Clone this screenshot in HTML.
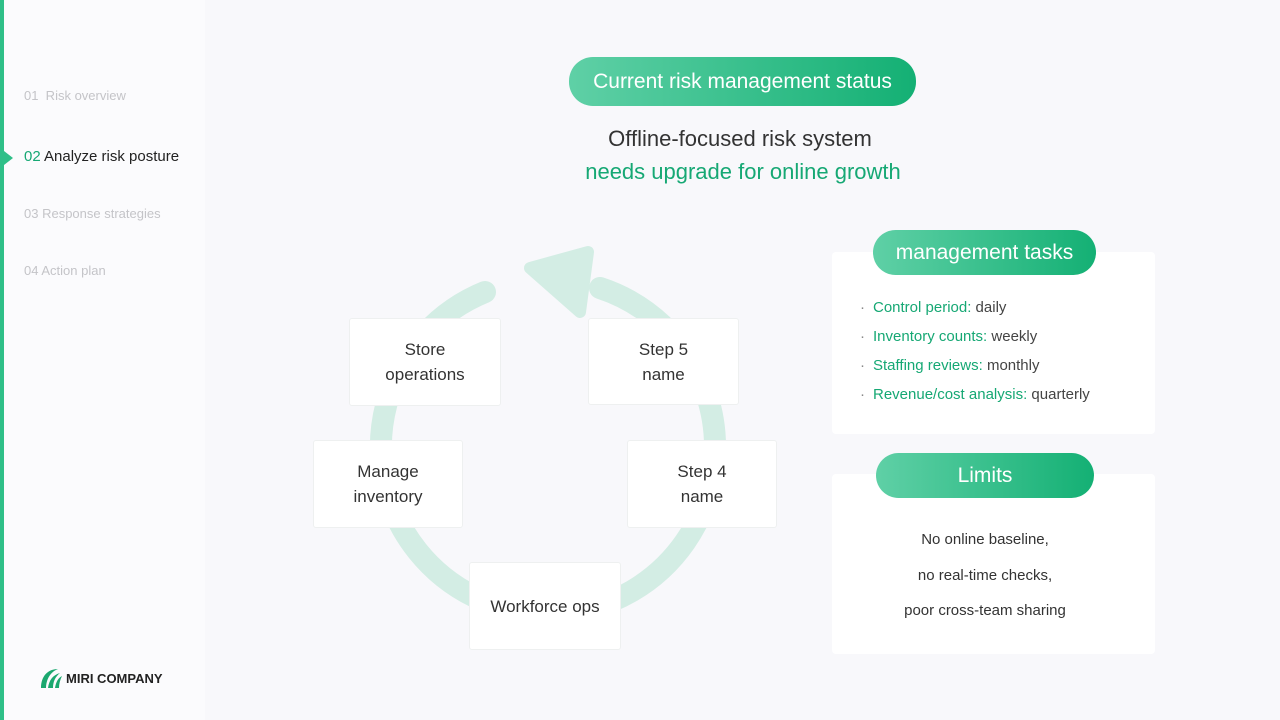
<!DOCTYPE html>
<html><head><meta charset="utf-8"><style>
*{margin:0;padding:0;box-sizing:border-box}
body{width:1280px;height:720px;overflow:hidden;background:#f8f8fb;font-family:"Liberation Sans",sans-serif;position:relative}
.side{position:absolute;left:0;top:0;width:205px;height:720px;background:#fbfbfd}
.bar{position:absolute;left:0;top:0;width:4px;height:720px;background:#2fbf88}
.nav{position:absolute;left:24px;font-size:13px;color:#c4c4c8}
.pill{position:absolute;border-radius:24px;background:linear-gradient(90deg,#5fd0a6,#14b074);color:#fff;text-align:center}
.card{position:absolute;background:#fff;border:1px solid #eef0f0;border-radius:3px;display:flex;align-items:center;justify-content:center;text-align:center;font-size:17px;color:#333;line-height:25px}
.panel{position:absolute;background:#fff;border-radius:4px}
.li{position:absolute;left:860px;font-size:15px;color:#444}
.li b{font-weight:normal;color:#16a874}
.li:before{content:"·";color:#888;margin-right:8px}
</style></head><body>
<div class="side"></div><div class="bar"></div>
<div style="position:absolute;left:4px;top:151px;width:0;height:0;border-left:9px solid #2fbf88;border-top:7px solid transparent;border-bottom:7px solid transparent"></div>
<div class="nav" style="top:88px">01&nbsp; Risk overview</div>
<div class="nav" style="top:148px;font-size:15px;color:#222;font-weight:500">
<span style="color:#16a874">02</span> Analyze risk posture</div>
<div class="nav" style="top:206px">03 Response strategies</div>
<div class="nav" style="top:263px">04 Action plan</div>
<svg style="position:absolute;left:38px;top:666px" width="26" height="26" viewBox="0 0 26 26"><path d="M3 22 C3 10 10 3 20 3 C12 6 8 14 8 22Z M10 22 C11 14 15 9 22 7 C17 11 15 16 15 22Z M17 22 C18 16 20 12 24 10 C22 14 21 18 21 22Z" fill="#1ba86f"/></svg>
<div style="position:absolute;left:66px;top:671px;font-size:13px;font-weight:bold;color:#222">MIRI COMPANY</div>

<div class="pill" style="left:569px;top:57px;width:347px;height:49px;font-size:21px;line-height:49px">Current risk management status</div>
<div style="position:absolute;left:540px;top:126px;width:400px;text-align:center;font-size:22px;color:#333">Offline-focused risk system</div>
<div style="position:absolute;left:538px;top:159px;width:410px;text-align:center;font-size:22px;color:#16a874">needs upgrade for online growth</div>

<svg style="position:absolute;left:0;top:0" width="1280" height="720">
<path d="M485 292 A167 167 0 1 0 600 288" fill="none" stroke="#d3ede4" stroke-width="22" stroke-linecap="round"/>
<path d="M530 268 L588 252 L580 312 Z" fill="#d3ede4" stroke="#d3ede4" stroke-width="12" stroke-linejoin="round"/>
</svg>
<div class="card" style="left:349px;top:318px;width:152px;height:88px">Store<br>operations</div>
<div class="card" style="left:588px;top:318px;width:151px;height:87px">Step 5<br>name</div>
<div class="card" style="left:313px;top:440px;width:150px;height:88px">Manage<br>inventory</div>
<div class="card" style="left:627px;top:440px;width:150px;height:88px">Step 4<br>name</div>
<div class="card" style="left:469px;top:562px;width:152px;height:88px">Workforce ops</div>

<div class="panel" style="left:832px;top:252px;width:323px;height:182px"></div>
<div class="pill" style="left:873px;top:230px;width:223px;height:45px;font-size:21px;line-height:45px">management tasks</div>
<div class="li" style="top:299px"><b>Control period:</b> daily</div>
<div class="li" style="top:328px"><b>Inventory counts:</b> weekly</div>
<div class="li" style="top:357px"><b>Staffing reviews:</b> monthly</div>
<div class="li" style="top:386px"><b>Revenue/cost analysis:</b> quarterly</div>

<div class="panel" style="left:832px;top:474px;width:323px;height:180px"></div>
<div class="pill" style="left:876px;top:453px;width:218px;height:45px;font-size:21px;line-height:45px">Limits</div>
<div style="position:absolute;left:832px;top:522px;width:306px;text-align:center;font-size:15px;color:#333;line-height:35.5px">No online baseline,<br>no real-time checks,<br>poor cross-team sharing</div>
</body></html>
